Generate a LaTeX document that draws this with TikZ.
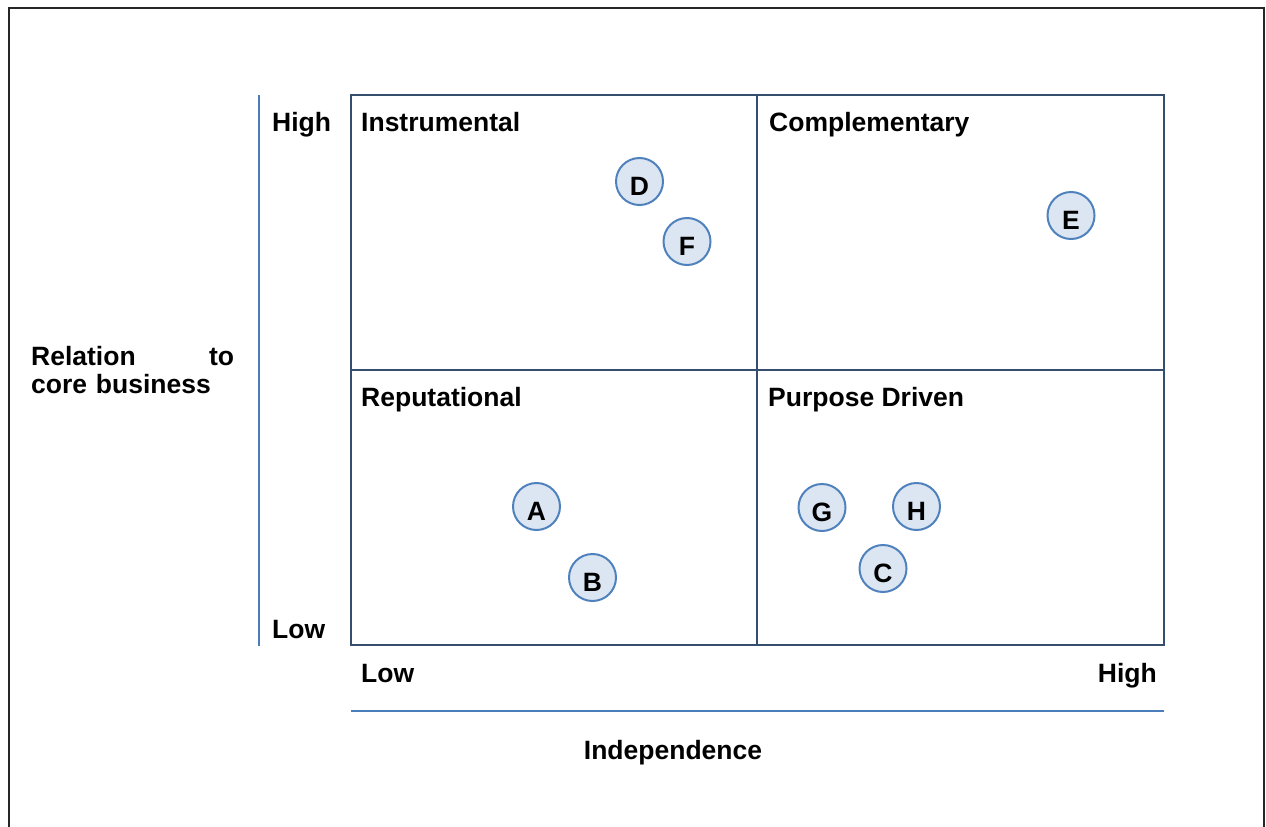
\documentclass[tikz,border=0pt]{standalone}
\usepackage{fontspec}
\setmainfont{Liberation Sans}
\usetikzlibrary{positioning}
\definecolor{gridblue}{RGB}{54,78,110}
\definecolor{axisblue}{RGB}{74,126,187}
\definecolor{dotfill}{RGB}{220,230,242}
\definecolor{dotline}{RGB}{79,129,189}

\begin{document}
\begin{tikzpicture}[x=1pt,y=-1pt,inner sep=0pt,
  lbl/.style={font=\fontsize{26.5}{28}\selectfont\bfseries, anchor=base west},
  dot/.style={circle, draw=dotline, fill=dotfill, line width=2pt, minimum size=47pt,
    text height=27pt, text depth=0pt, font=\fontsize{26.5}{28}\selectfont\bfseries},
  gridline/.style={draw=gridblue, line width=2.6pt},
  axisline/.style={draw=axisblue, line width=2pt}]
\useasboundingbox (0,0) rectangle (1266,827);
\draw [line width=2pt, draw=black!85] (9,827) -- (9,8) -- (1264,8) -- (1264,827);

\coordinate (NW) at (351,95);
\coordinate (SE) at (1164,645);
\coordinate (MT) at (757,95);
\coordinate (MB) at (757,645);
\coordinate (ML) at (351,370);
\coordinate (MR) at (1164,370);

\draw [axisline] (259,95) -- (259,646);
\draw [axisline] (351,711) -- (1164,711);
\draw [gridline] (NW) rectangle (SE);
\draw [gridline] (MT) -- (MB);
\draw [gridline] (ML) -- (MR);

\node [lbl] (instr) at (361,131) {Instrumental};
\node [lbl] (compl) at (769,131) {Complementary};
\node [lbl] (reput) at (361,406) {Reputational};
\node [lbl] (purp) at (768,406) {Purpose Driven};

\node [lbl] (yhigh) at (272,131) {High};
\node [lbl] (ylow) at (272,638) {Low};
\node [lbl] (xlow) at (361,682) {Low};
\node [lbl, anchor=base east] (xhigh) at (1157,682) {High};
\node [lbl, anchor=base] (xname) at (673,759) {Independence};
\node [lbl, anchor=north west, text width=203pt, align=left] (yname) at (31,346)
  {Relation\hfill to\\core business};

% punkty w ćwiartkach
\node [dot] (D) at (639.5,181.5) {D};
\node [dot] (F) at (687,241.5) {F};
\node [dot] (E) at (1071,215.5) {E};
\node [dot] (A) at (536.5,506.5) {A};
\node [dot] (B) at (592.5,577.5) {B};
\node [dot] (G) at (822,507.5) {G};
\node [dot] (H) at (916.5,506.5) {H};
\node [dot] (C) at (883,568.5) {C};
\end{tikzpicture}
\end{document}
